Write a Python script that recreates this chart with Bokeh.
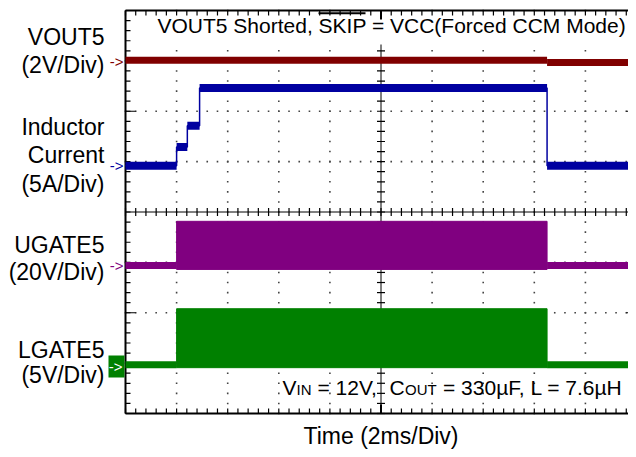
import numpy as np
from bokeh.plotting import figure
from bokeh.models import Range1d, Label
from bokeh.embed import file_html
from bokeh.resources import INLINE

# ---------------- data read from the scope capture ----------------
time_span_ms = [0.0, 20.0]       # 10 div x 2 ms/div
div_span = [0.0, 8.0]            # 8 vertical divisions

# channel ground markers (divisions from bottom) and scales
vout5_gnd_div, vout5_scale = 6.99, 2.0     # V/div
il_gnd_div, il_scale = 4.92, 5.0           # A/div
ug_gnd_div, ug_scale = 2.94, 20.0          # V/div
lg_gnd_div, lg_scale = 0.97, 5.0           # V/div

vout5_edges_ms = [0.0, 16.5, 20.0]
vout5_levels_v = [0.04, -0.04]

il_edges_ms = [0.0, 2.0, 2.42, 2.9, 16.5, 20.0]
il_levels_a = [0.0, 1.85, 3.95, 7.7, 0.0]

gate_on_ms = [2.0, 16.5]
gate_off_v = 0.0
ug_on_max_v, ug_on_min_v = 17.5, -1.6
lg_on_max_v, lg_on_min_v = 5.55, -0.3

left_labels = [("VOUT5", 45), ("(2V/Div)", 73.5), ("Inductor", 135), ("Current", 163),
               ("(5A/Div)", 192), ("UGATE5", 253), ("(20V/Div)", 280.5),
               ("LGATE5", 358), ("(5V/Div)", 383.5)]

RED, BLUE, PURPLE, GREEN = "#800000", "#0000a0", "#800080", "#008000"
FONT = "Liberation Sans"

# ---------------- figure (plot area = whole canvas, scope graticule inside) ----------------
W, H = 628, 449
GL, GT, GB, GR = 125, 10, 413, 636   # graticule edges in canvas px (right edge is off-canvas)
sx = (GR - GL) / (time_span_ms[1] - time_span_ms[0])
sy = (GB - GT) / (div_span[1] - div_span[0])
x_lo = time_span_ms[0] - GL / sx
x_hi = x_lo + W / sx
y_hi = div_span[1] + GT / sy
y_lo = y_hi - H / sy

def dx(px):  # canvas px -> data x
    return x_lo + px / sx

def dy(py):  # canvas px -> data y
    return y_hi - py / sy

p = figure(width=W, height=H, x_range=Range1d(x_lo, x_hi), y_range=Range1d(y_lo, y_hi),
           x_axis_type=None, y_axis_type=None, output_backend="svg", toolbar_location=None,
           min_border=0)
p.outline_line_color = None
p.background_fill_color = "white"
p.border_fill_color = "white"

# ---------------- graticule ----------------
mx = np.arange(0, 20.0001, 0.4)
my = np.arange(0, 8.0001, 0.2)
gx = [2, 4, 6, 8, 12, 14, 16, 18]
gy = [1, 2, 3, 5, 6, 7]
dot_x = np.concatenate([np.full(my.size, g) for g in gx] + [mx for g in gy])
dot_y = np.concatenate([my for g in gx] + [np.full(mx.size, g) for g in gy])
p.scatter(dot_x, dot_y, marker="square", size=1.6, color="#444444", line_color=None)

# center lines with cross ticks
p.segment(x0=[10, 0], y0=[0, 4], x1=[10, 20], y1=[8, 4], line_color="black", line_width=1)
tx, ty = 4 / sx, 4 / sy
p.segment(x0=10 - tx, x1=10 + tx, y0=my, y1=my, line_color="black", line_width=1.2)
p.segment(x0=mx, x1=mx, y0=4 - ty, y1=4 + ty, line_color="black", line_width=1.2)

# white box behind the title
p.quad(left=dx(152), right=20, bottom=dy(44), top=dy(15), fill_color="white", line_color=None)

# border + border ticks
p.segment(x0=[0, 0, 0], y0=[0, 8, 0], x1=[0, 20, 20], y1=[8, 8, 0], line_color="black", line_width=2)
L = 5
p.segment(x0=mx, x1=mx, y0=0, y1=L / sy, line_color="black", line_width=1.2)
p.segment(x0=mx, x1=mx, y0=8, y1=8 - L / sy, line_color="black", line_width=1.2)
p.segment(x0=0, x1=L / sx, y0=my, y1=my, line_color="black", line_width=1.2)
p.segment(x0=20, x1=20 - L / sx, y0=my, y1=my, line_color="black", line_width=1.2)
p.segment(x0=[0, 0, 20, 20], x1=[10 / sx, 10 / sx, 20 - 10 / sx, 20 - 10 / sx],
          y0=[2, 6, 2, 6], y1=[2, 6, 2, 6], line_color="black", line_width=1.2)
p.segment(x0=[10, 10], x1=[10, 10], y0=[0, 8], y1=[9 / sy, 8 - 9 / sy], line_color="black", line_width=2)

# ---------------- traces ----------------
def to_div(v, gnd, scale):
    return gnd + np.asarray(v, dtype=float) / scale

# VOUT5
v_div = to_div(vout5_levels_v, vout5_gnd_div, vout5_scale)
p.segment(x0=vout5_edges_ms[:-1], x1=vout5_edges_ms[1:], y0=v_div, y1=v_div,
          line_color=RED, line_width=7)

# Inductor current
i_div = to_div(il_levels_a, il_gnd_div, il_scale)
p.step(x=il_edges_ms, y=list(i_div) + [i_div[-1]], mode="after", line_color=BLUE, line_width=1.5)
p.segment(x0=il_edges_ms[:-1], x1=il_edges_ms[1:], y0=i_div, y1=i_div,
          line_color=BLUE, line_width=8)

# UGATE5
off_x0 = [time_span_ms[0], gate_on_ms[1]]
off_x1 = [gate_on_ms[0], time_span_ms[1]]
ug_off = float(to_div(gate_off_v, ug_gnd_div, ug_scale))
p.segment(x0=off_x0, x1=off_x1, y0=ug_off, y1=ug_off, line_color=PURPLE, line_width=7)
p.quad(left=gate_on_ms[0], right=gate_on_ms[1],
       bottom=float(to_div(ug_on_min_v, ug_gnd_div, ug_scale)),
       top=float(to_div(ug_on_max_v, ug_gnd_div, ug_scale)),
       fill_color=PURPLE, line_color=PURPLE, line_width=1)

# LGATE5
lg_off = float(to_div(gate_off_v, lg_gnd_div, lg_scale))
p.segment(x0=off_x0, x1=off_x1, y0=lg_off, y1=lg_off, line_color=GREEN, line_width=7)
p.quad(left=gate_on_ms[0], right=gate_on_ms[1],
       bottom=float(to_div(lg_on_min_v, lg_gnd_div, lg_scale)),
       top=float(to_div(lg_on_max_v, lg_gnd_div, lg_scale)),
       fill_color=GREEN, line_color=GREEN, line_width=1)

# green channel-1 marker box
p.quad(left=dx(108), right=dx(124), bottom=dy(377), top=dy(355), fill_color=GREEN, line_color=None)

# ---------------- text ----------------
BASE_SHIFT = 0.38   # measured: Label text sits this many em below the requested baseline

def lab(text, px, py, size, color="black", align="left", baseline="alphabetic"):
    if baseline == "alphabetic":
        py = py - BASE_SHIFT * size
    p.add_layout(Label(x=dx(px), y=dy(py), text=text, text_font=FONT,
                       text_font_size=f"{size}px", text_color=color,
                       text_align=align, text_baseline=baseline))

for t, yb in left_labels:
    lab(t, 104, yb, 23, align="right")

# channel markers
lab("->", 123, 61, 15, RED, "right", "middle")
lab("->", 123, 165, 15, BLUE, "right", "middle")
lab("->", 123, 265, 15, PURPLE, "right", "middle")
lab("->", 122, 366, 15, "white", "right", "middle")

# title with overline on SKIP
lab("VOUT5 Shorted, SKIP = VCC(Forced CCM Mode)", 157, 33, 21)
p.segment(x0=dx(318), x1=dx(365), y0=dy(12.8), y1=dy(12.8), line_color="black", line_width=2)

# conditions
lab("V", 282, 394.5, 21)
lab("IN", 296, 394.5, 15)
lab("= 12V,", 317, 394.5, 21)
lab("C", 389, 394.5, 21)
lab("OUT", 404.5, 394.5, 15)
lab("= 330\u00b5F, L = 7.6\u00b5H", 442.5, 394.5, 21)

# x axis caption
lab("Time (2ms/Div)", 380.5, 444, 23, align="center")

open("out.html", "w").write(file_html(p, INLINE))
